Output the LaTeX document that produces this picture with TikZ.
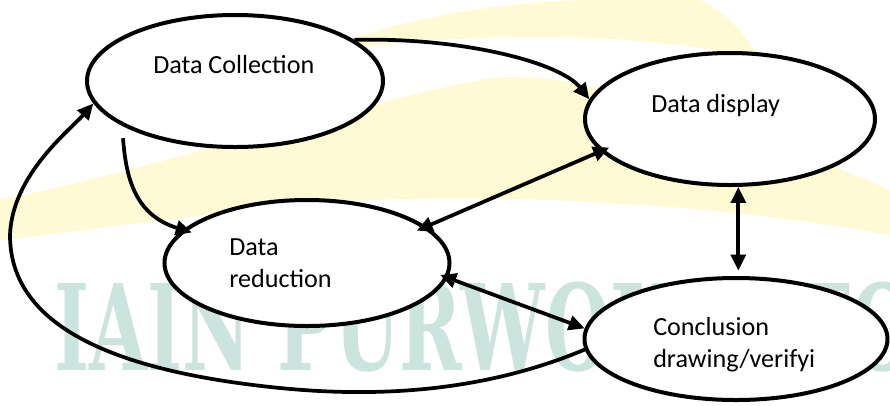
\documentclass[tikz,border=0pt]{standalone}
\usepackage{fontspec}
\setmainfont{Carlito}
\newfontfamily\wmfont{DejaVu Serif}
\usetikzlibrary{shapes.geometric,arrows.meta}
\definecolor{wmyellow}{RGB}{254,250,212}
\definecolor{wmteal}{RGB}{204,228,222}
\begin{document}
\begin{tikzpicture}[x=0.75pt,y=-0.75pt,
  elli/.style={draw, ellipse, fill=white, line width=3pt, inner sep=0pt},
  lbl/.style={font=\fontsize{19.6}{24}\selectfont, inner sep=0pt, anchor=base west, align=left},
  con/.style={line width=2.8pt, -{Triangle[length=12pt,width=11pt]}},
  dcon/.style={line width=2.8pt, {Triangle[length=12pt,width=11pt]}-{Triangle[length=12pt,width=11pt]}}]
\fill[white] (0,0) rectangle (890,405);
\useasboundingbox (0,0) rectangle (890,405);
\begin{scope}
\clip (0,0) rectangle (890,405);
% faint background logo
\fill[wmyellow] (310,55) .. controls (400,15) and (520,0) .. (600,0) -- (700,0)
  .. controls (730,15) and (750,40) .. (760,60) .. controls (650,30) and (450,30) .. cycle;
\fill[wmyellow] (0,200) .. controls (150,170) and (330,110) .. (480,80)
  .. controls (560,65) and (700,110) .. (890,190) -- (890,235)
  .. controls (700,200) and (450,190) .. (300,205)
  .. controls (150,220) and (50,235) .. (0,240) -- cycle;
\node[anchor=base west, inner sep=0pt, text=wmteal] (wm) at (54,370)
  {\scalebox{0.63}[1]{\wmfont\bfseries\fontsize{89.5}{90}\selectfont IAIN PURWOKERTO}};
\end{scope}
% ellipses
\node[elli, minimum width=296*0.75pt, minimum height=132*0.75pt] (DC) at (235,81) {};
\node[elli, minimum width=290*0.75pt, minimum height=132*0.75pt] (DD) at (730,119) {};
\node[elli, minimum width=285*0.75pt, minimum height=126*0.75pt] (DR) at (307,263) {};
\node[elli, minimum width=303*0.75pt, minimum height=122*0.75pt] (CD) at (736,339) {};
% labels
\node[lbl] (tDC) at (153,73) {Data Collection};
\node[lbl] (tDD) at (651,112) {Data display};
\node[lbl] (tDR) at (229,287) {Data\\reduction};
\node[lbl] (tCD) at (653,367) {Conclusion\\drawing/verifyi};
% connectors
\draw[con] (DC.19) .. controls (460,37) and (560,62) .. (DD.172);
\draw[con, shorten >=-7pt] ([yshift=-9pt]DC.202) .. controls (126,178) and (135,215) .. (DR.165);
\draw[dcon, shorten <=-8pt, shorten >=-7pt] (DR.17) -- (DD.194);
\draw[dcon, shorten >=4pt] (DD.-83) -- (DD.-83 |- CD.north);
\draw[dcon, shorten <=-6pt] (DR.-6) -- (CD.176);
\draw[con] (CD.184) .. controls (500,385) and (400,400) .. (280,388)
  .. controls (100,370) and (10,320) .. (10,235)
  .. controls (12,175) and (70,130) .. (DC.189);
\end{tikzpicture}
\end{document}
